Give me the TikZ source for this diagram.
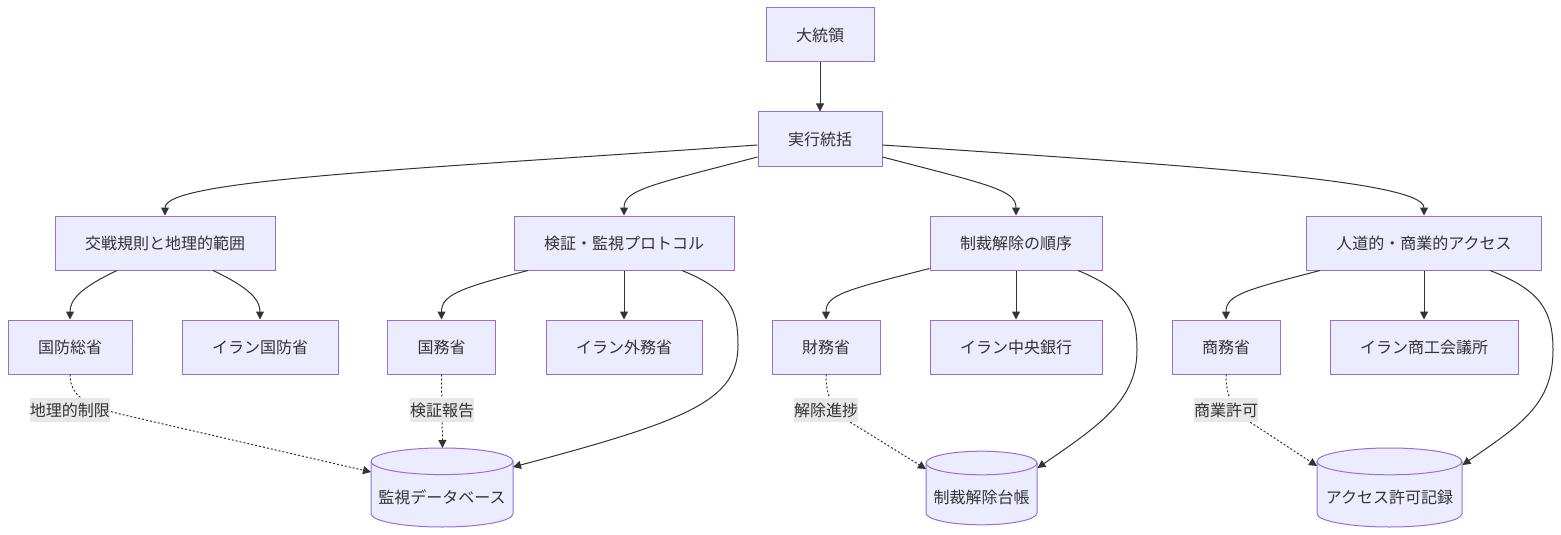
\documentclass[tikz,border=0pt]{standalone}
\usepackage{fontspec}
\setmainfont{Noto Sans CJK JP}
\usetikzlibrary{arrows.meta,backgrounds}
\definecolor{boxfill}{HTML}{ECECFF}
\definecolor{boxline}{HTML}{9370DB}
\definecolor{lncol}{HTML}{333333}
\definecolor{txt}{HTML}{333333}
\definecolor{lblfill}{HTML}{E8E8E8}
\newcommand\dbdraw[5]{%
  \path[dbshape] ([shift={(-#2,#4)}]#1.center) -- ([shift={(-#2,#5)}]#1.center)
    arc[start angle=180,end angle=360,x radius=#2*0.75pt,y radius=#3*0.75pt]
    -- ([shift={(#2,#4)}]#1.center)
    arc[start angle=0,end angle=180,x radius=#2*0.75pt,y radius=#3*0.75pt] -- cycle;
  \draw[dbline] ([shift={(-#2,#4)}]#1.center)
    arc[start angle=180,end angle=360,x radius=#2*0.75pt,y radius=#3*0.75pt];
}
\begin{document}
\begin{tikzpicture}[x=0.75pt,y=-0.75pt,
  every node/.style={text=txt, font=\fontsize{12pt}{14pt}\selectfont},
  box/.style={draw=boxline, fill=boxfill, line width=0.75pt, minimum height=40.5pt, inner xsep=22.5pt},
  dbtext/.style={inner sep=0pt},
  dbshape/.style={draw=boxline, fill=boxfill, line width=0.75pt},
  dbline/.style={draw=boxline, line width=0.75pt},
  lbl/.style={fill=lblfill, inner xsep=0pt, inner ysep=0pt, minimum height=18pt},
  arr/.style={draw=lncol, line width=0.75pt, -{Triangle[length=6pt,width=6pt]}},
  dotarr/.style={arr, dash pattern=on 1.5pt off 1.5pt},
]
\useasboundingbox (0,0) rectangle (1561,535);

% databases (text nodes; cylinder bodies drawn on the background layer)
\node[dbtext] (db1) at (442,497) {監視データベース};
\node[dbtext] (db2) at (981.5,497) {制裁解除台帳};
\node[dbtext] (db3) at (1389.5,497) {アクセス許可記録};
\begin{scope}[on background layer]
\dbdraw{db1}{71}{13.3}{-35.7}{16.7}
\dbdraw{db2}{55.5}{11.8}{-34}{16}
\dbdraw{db3}{72.5}{13.4}{-35.6}{16.6}
\end{scope}

% boxes
\node[box] (pres) at (820,35) {大統領};
\node[box] (exec) at (820,139) {実行統括};
\node[box] (roe) at (165,243) {交戦規則と地理的範囲};
\node[box] (ver) at (624,243) {検証・監視プロトコル};
\node[box] (sanc) at (1016,243) {制裁解除の順序};
\node[box] (hum) at (1424,243) {人道的・商業的アクセス};
\node[box] (dod) at (70,347) {国防総省};
\node[box] (imod) at (260,347) {イラン国防省};
\node[box] (dos) at (441.5,347) {国務省};
\node[box] (imfa) at (624,347) {イラン外務省};
\node[box] (tre) at (826,347) {財務省};
\node[box] (cbi) at (1016,347) {イラン中央銀行};
\node[box] (doc) at (1226,347) {商務省};
\node[box] (icc) at (1424,347) {イラン商工会議所};

% top edges
\draw[arr] (pres) -- (exec);
\draw[arr] ([shift={(0,6)}]exec.west) .. controls (400,170) and (165,180) .. (roe.north);
\draw[arr] ([shift={(0,18)}]exec.west) .. controls (650,185) and (624,190) .. (ver.north);
\draw[arr] ([shift={(0,18)}]exec.east) .. controls (990,185) and (1016,190) .. (sanc.north);
\draw[arr] ([shift={(0,6)}]exec.east) .. controls (1180,165) and (1424,180) .. (hum.north);

% second level
\draw[arr] ([shift={(-48,0)}]roe.south) .. controls (80,288) and (70,300) .. (dod.north);
\draw[arr] ([shift={(48,0)}]roe.south) .. controls (250,288) and (260,300) .. (imod.north);
\draw[arr] ([shift={(-96,0)}]ver.south) .. controls (460,288) and (441.5,295) .. (dos.north);
\draw[arr] (ver) -- (imfa);
\draw[arr] ([shift={(0,-2)}]sanc.south west) .. controls (845,290) and (826,295) .. (tre.north);
\draw[arr] (sanc) -- (cbi);
\draw[arr] ([shift={(-104,0)}]hum.south) .. controls (1245,290) and (1226,295) .. (doc.north);
\draw[arr] (hum) -- (icc);

% long edges to databases
\draw[arr] ([shift={(58,0)}]ver.south) .. controls (730,290) and (738,310) .. (738,345)
  .. controls (738,400) and (690,420) .. ([shift={(71,-30)}]db1.center);
\draw[arr] ([shift={(62,0)}]sanc.south) .. controls (1125,290) and (1137,310) .. (1137,350)
  .. controls (1137,400) and (1100,425) .. ([shift={(56,-29)}]db2.center);
\draw[arr] ([shift={(66,0)}]hum.south) .. controls (1540,290) and (1553,310) .. (1553,350)
  .. controls (1553,405) and (1520,425) .. ([shift={(73,-32)}]db3.center);

% dotted edges
\draw[dotarr] (dod.south) .. controls (70,395) and (85,405) .. (120,414) -- ([shift={(-71,-25)}]db1.center);
\draw[dotarr] (dos.south) -- ([shift={(0.5,-49)}]db1.center);
\draw[dotarr] (tre.south) .. controls (826,400) and (835,410) .. (850,422) -- ([shift={(-55.5,-28)}]db2.center);
\draw[dotarr] (doc.south) .. controls (1226,400) and (1235,410) .. (1250,422) -- ([shift={(-72.5,-31)}]db3.center);

% edge labels
\node[lbl] (l1) at (70,410) {地理的制限};
\node[lbl] (l2) at (442,410) {検証報告};
\node[lbl] (l3) at (826,410) {解除進捗};
\node[lbl] (l4) at (1226,410) {商業許可};
\end{tikzpicture}
\end{document}
